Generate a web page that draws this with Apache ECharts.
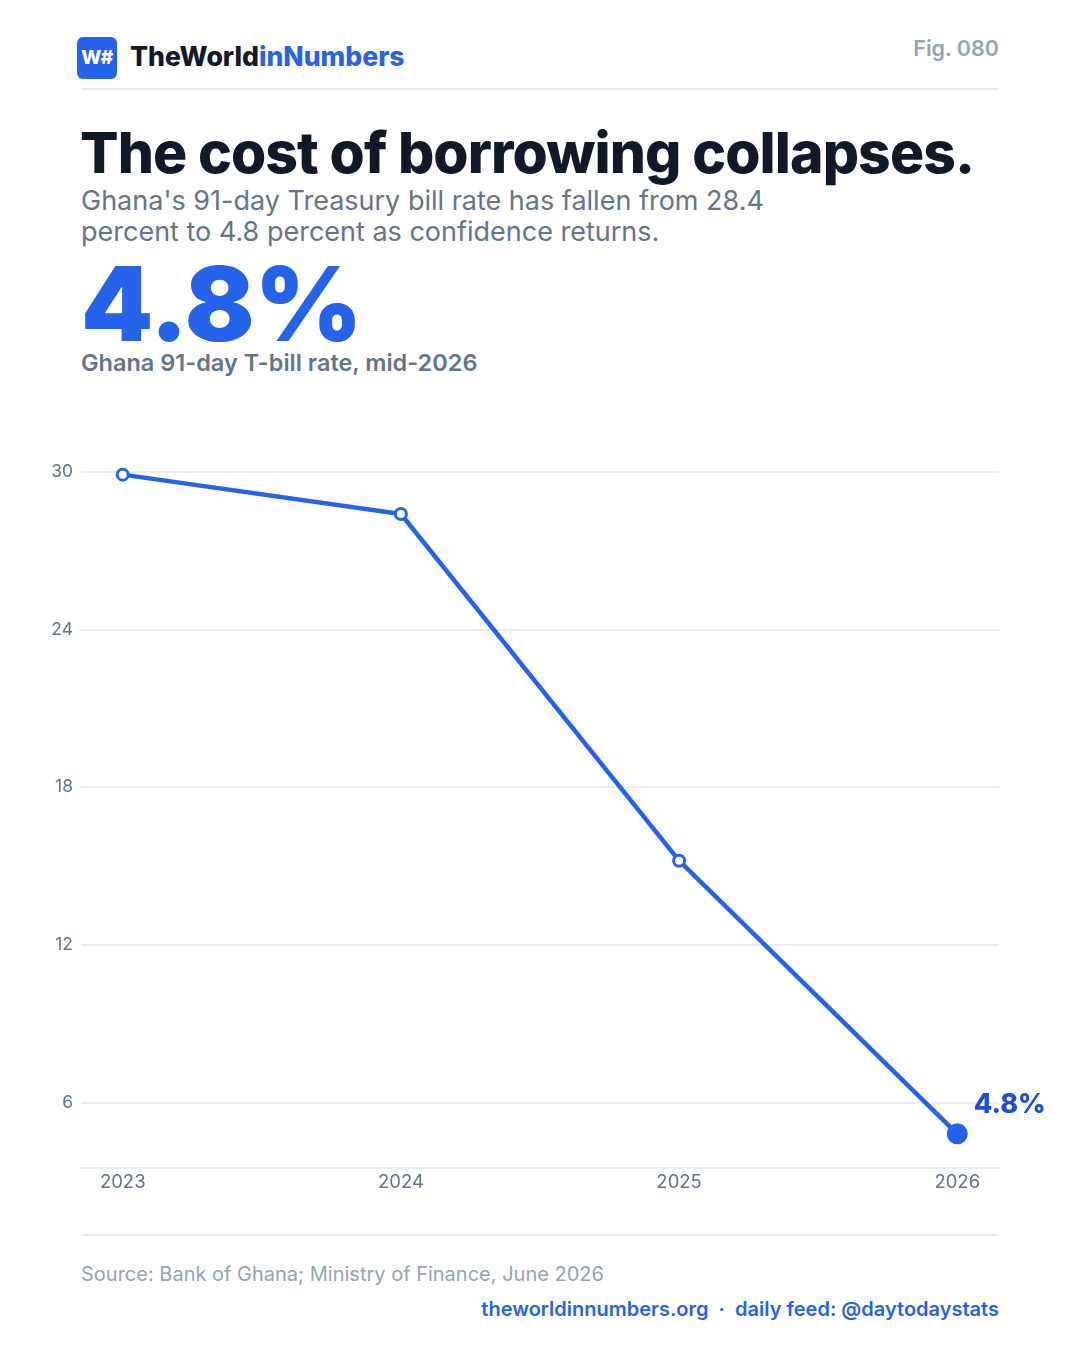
<!DOCTYPE html>
<html>
<head>
<meta charset="utf-8">
<script src="https://cdn.jsdelivr.net/npm/echarts@6/dist/echarts.min.js"></script>
<style>
  html, body { margin: 0; padding: 0; background: #fff; }
  body { width: 1080px; height: 1350px; position: relative; font-family: Inter, "Noto Sans", sans-serif; overflow: hidden; }
  .abs { position: absolute; white-space: nowrap; }
  .logo { left: 77px; top: 37px; width: 40px; height: 42px; background: #2563eb; border-radius: 6px;
          color: #fff; font-weight: 800; font-size: 19px; line-height: 42px; text-align: center; letter-spacing: -0.5px; }
  .brand { left: 130px; top: 38px; font-size: 26.6px; font-weight: 800; color: #111827; line-height: 36px; }
  .brand span { color: #2563eb; }
  .fig { right: 81px; top: 33px; font-size: 21.5px; font-weight: 600; color: #94a3b8; line-height: 30px; }
  .rule { left: 81px; width: 918px; height: 2px; background: #e2e8f0; }
  .title { left: 80px; top: 117px; font-size: 57px; font-weight: 800; color: #111827; letter-spacing: -0.9px; line-height: 72px; }
  .sub { left: 81px; top: 185px; font-size: 27px; color: #64748b; line-height: 31px; white-space: normal; width: 720px; }
  .big { left: 81px; top: 246px; font-size: 103px; font-weight: 900; color: #2563eb; line-height: 116px; }
  .biglab { left: 81px; top: 348px; font-size: 23.5px; font-weight: 600; color: #64748b; line-height: 30px; }
  .src { left: 81px; top: 1260px; font-size: 20px; color: #94a3b8; line-height: 28px; }
  .foot { right: 81px; top: 1295px; font-size: 20px; font-weight: 600; color: #2563eb; line-height: 28px; }
  #main-chart-0 { position: absolute; left: 0; top: 400px; width: 1080px; height: 830px; }
</style>
</head>
<body>
<div class="abs logo">W#</div>
<div class="abs brand">TheWorld<span>inNumbers</span></div>
<div class="abs fig">Fig. 080</div>
<div class="abs rule" style="top:88px"></div>
<div class="abs title">The cost of borrowing collapses.</div>
<div class="abs sub">Ghana's 91-day Treasury bill rate has fallen from 28.4 percent to 4.8 percent as confidence returns.</div>
<div class="abs big">4.8%</div>
<div class="abs biglab">Ghana 91-day T-bill rate, mid-2026</div>
<div id="main-chart-0"></div>
<div class="abs rule" style="top:1234px"></div>
<div class="abs src">Source: Bank of Ghana; Ministry of Finance, June 2026</div>
<div class="abs foot">theworldinnumbers.org &nbsp;·&nbsp; daily feed: @daytodaystats</div>

<script>
// Veriler
const years = [2023, 2024, 2025, 2026];
const rates = [29.9, 28.4, 15.2, 4.8];
const yTicks = [6, 12, 18, 24, 30];
const endLabel = "4.8%";

const blue = "#2563eb";
const gridGray = "#e2e8f0";
const labelGray = "#64748b";

// son nokta dolu, diğerleri içi beyaz
const points = years.map((y, i) => {
    const last = i === years.length - 1;
    return {
        value: [y, rates[i]],
        symbol: "circle",
        symbolSize: last ? 21 : 11,
        itemStyle: last ? { color: blue, borderWidth: 0 } : { color: "#fff", borderColor: blue, borderWidth: 3 },
        label: last ? {
            show: true, position: "right", distance: 6, offset: [0, -29],
            formatter: endLabel, color: "#1d4ed8", fontSize: 27, fontWeight: 800,
            fontFamily: "Inter"
        } : { show: false }
    };
});

const chart = echarts.init(document.getElementById("main-chart-0"));
chart.setOption({
    animation: false,
    grid: { left: 81, right: 81, top: 72, bottom: 62 },
    xAxis: {
        type: "value",
        min: 2022.85,
        max: 2026.15,
        axisLine: { show: true, onZero: false, lineStyle: { color: gridGray, width: 1.5 } },
        axisTick: { show: false, customValues: years },
        splitLine: { show: false },
        axisLabel: {
            customValues: years,
            formatter: v => String(v),
            color: labelGray, fontSize: 18.5, fontFamily: "Inter", margin: 5
        }
    },
    yAxis: {
        type: "value",
        min: 3.5,
        max: 30,
        axisLine: { show: false },
        axisTick: { show: false, customValues: yTicks },
        splitLine: { show: true, lineStyle: { color: gridGray, width: 1.5 } },
        axisLabel: {
            customValues: yTicks,
            color: labelGray, fontSize: 17.5, fontFamily: "Inter", margin: 8
        }
    },
    series: [{
        type: "line",
        data: points,
        clip: false,
        lineStyle: { color: blue, width: 4.5 },
        itemStyle: { color: blue },
        z: 3
    }]
});
</script>
</body>
</html>
